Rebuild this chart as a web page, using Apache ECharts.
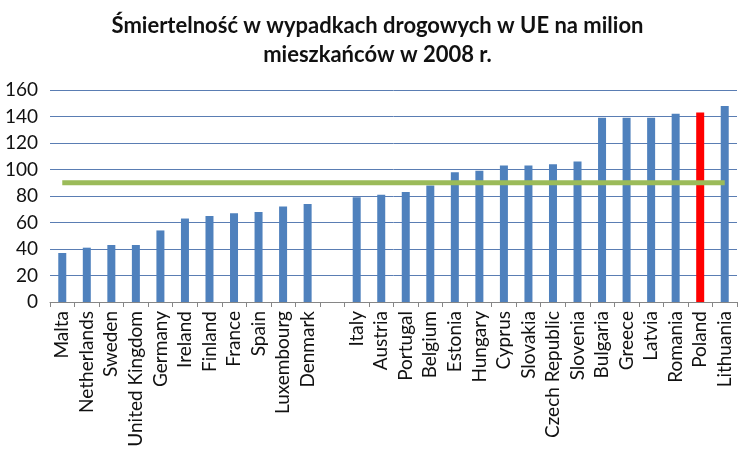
<!DOCTYPE html>
<html><head><meta charset="utf-8">
<script src="https://cdn.jsdelivr.net/npm/echarts@6/dist/echarts.min.js"></script>
<style>html,body{margin:0;padding:0;background:#fff}#c{width:755px;height:452px}</style>
</head><body><div id="c"></div>
<script>
const titleText = 'Śmiertelność w wypadkach drogowych w UE na milion\nmieszkańców w 2008 r.';
const categories = ['Malta','Netherlands','Sweden','United Kingdom','Germany','Ireland','Finland','France','Spain','Luxembourg','Denmark','','Italy','Austria','Portugal','Belgium','Estonia','Hungary','Cyprus','Slovakia','Czech Republic','Slovenia','Bulgaria','Greece','Latvia','Romania','Poland','Lithuania'];
const values = [37,41,43,43,54,63,65,67,68,72,74,null,79,81,83,88,98,99,103,103,104,106,139,139,139,142,143,148];
const averageLine = [90,90,90,90,90,90,90,90,90,90,90,90,90,90,90,90,90,90,90,90,90,90,90,90,90,90,90,90];
const highlighted = ['Poland'];
const yTicks = {min:0, max:160, interval:20};

const chart = echarts.init(document.getElementById('c'), null, {renderer:'canvas'});
const barData = values.map((v,i) => highlighted.includes(categories[i])
  ? {value:v, itemStyle:{color:'#FF0000'}} : v);
chart.setOption({
  animation:false,
  textStyle:{fontFamily:'Lato'},
  title:{text:titleText, left:'center', top:6,
    textStyle:{fontFamily:'Lato', fontWeight:'bold', fontSize:22, lineHeight:29, color:'#111'}},
  grid:{left:50, right:18, top:90, bottom:150, containLabel:false},
  xAxis:{type:'category', data:categories, boundaryGap:true,
    axisLine:{lineStyle:{color:'#868686', width:1}},
    axisTick:{show:true, length:5, interval:0, lineStyle:{color:'#868686'}},
    axisLabel:{rotate:90, interval:0, fontSize:19, color:'#111', margin:9, fontFamily:'Lato'}},
  yAxis:{type:'value', min:yTicks.min, max:yTicks.max, interval:yTicks.interval,
    axisLine:{show:false}, axisTick:{show:false},
    axisLabel:{fontSize:19, color:'#111', margin:12, fontFamily:'Lato'},
    splitLine:{lineStyle:{color:'#5a7db3', width:1}}},
  series:[
    {type:'bar', data:barData, barWidth:8, itemStyle:{color:'#4F81BD'}},
    {type:'line', data:averageLine, symbol:'none', lineStyle:{color:'#9BBB59', width:5}, z:5}
  ]
});
</script></body></html>
